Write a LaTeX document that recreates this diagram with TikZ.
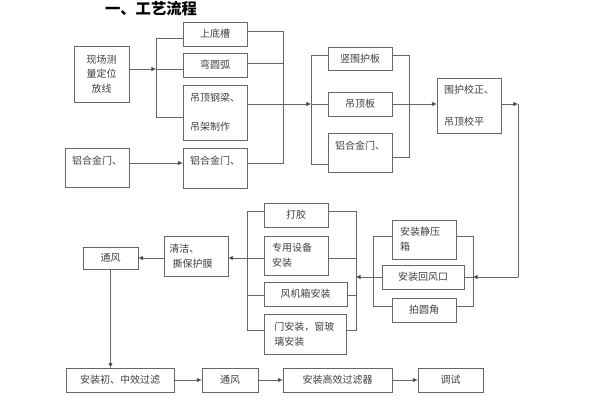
\documentclass[tikz,border=0pt]{standalone}
\usepackage{fontspec}
\setmainfont{Noto Sans CJK SC}
\usetikzlibrary{arrows.meta, positioning}

\tikzset{
    box/.style={draw=black!60, line width=0.6pt, inner sep=1.5pt, text=black!75,
        font=\fontsize{7.5}{11}\selectfont},
    bw/.style={minimum width=#1*0.75pt},
    bh/.style={minimum height=#1*0.75pt},
    line/.style={draw=black!60, line width=0.6pt},
    arr/.style={line, -{Triangle[length=3.5pt, width=3pt, fill=black]}},
}

\begin{document}
\begin{tikzpicture}[x=0.75pt, y=-0.75pt]
\useasboundingbox (0,0) rectangle (600,400);

% Title
\node[font=\fontsize{11.5}{13}\selectfont\bfseries] (title) at (151,9) {一、工艺流程};

% First column
\node[box, bw=55, bh=56, align=center] (xc) at (101.5,74) {现场测\\量定位\\放线};
\node[box, bw=64, bh=39, align=left] (lhj1) at (97,167.5) {铝合金门、\\ \mbox{}};

% Second column
\node[box, bw=64, bh=24] (sdc) at (215,34) {上底槽};
\node[box, bw=64, bh=24] (wyh) at (215,65) {弯圆弧};
\node[box, bw=64, bh=55, align=left] (dgl) at (215,112.5) {吊顶钢梁、\\[11pt]吊架制作};
\node[box, bw=64, bh=40, align=left] (lhj2) at (215,168) {铝合金门、\\ \mbox{}};

% Third column
\node[box, bw=64, bh=23] (sw) at (360,58.5) {竖围护板};
\node[box, bw=64, bh=24] (dgb) at (360,104) {吊顶板};
\node[box, bw=64, bh=39, align=left] (lhj3) at (360,152.5) {铝合金门、\\ \mbox{}};
\node[box, bw=64, bh=55, align=left] (wh) at (469,105.5) {围护校正、\\[13pt]吊顶校平};

% Right group
\node[box, bw=64, bh=39, align=left, text width=36pt] (jyx) at (424,239.5) {安装静压\\箱};
\node[box, bw=82, bh=24] (hfk) at (423,277) {安装回风口};
\node[box, bw=64, bh=24] (pyj) at (424,310) {拍圆角};

% Middle group
\node[box, bw=64, bh=24] (dj) at (296,215) {打胶};
\node[box, bw=64, bh=39, align=left, text width=36pt] (zy) at (296,255.5) {专用设备\\安装};
\node[box, bw=83, bh=24] (fj) at (305.5,294) {风机箱安装};
\node[box, bw=82, bh=40, align=left, text width=46pt] (mc) at (305,334) {门安装，窗玻\\璃安装};
\node[box, bw=64, bh=40, align=left, text width=40pt] (qj) at (196,256) {清洁、\\\ 撕保护膜};
\node[box, bw=55, bh=22] (tf1) at (110.5,258) {通风};

% Bottom row
\node[box, bw=108, bh=24] (cz) at (120,380) {安装初、中效过滤};
\node[box, bw=56, bh=24] (tf2) at (230,380) {通风};
\node[box, bw=109, bh=24] (gx) at (337.5,380) {安装高效过滤器};
\node[box, bw=65, bh=24] (ts) at (450.5,380) {调试};

% Branch points
\coordinate (a0) at (156,69);  \coordinate (a1) at (156,38);  \coordinate (a2) at (156,117);
\coordinate (b1) at (283,31);  \coordinate (b2) at (283,63);  \coordinate (b3) at (283,104); \coordinate (b4) at (283,163);
\coordinate (c1) at (311,55);  \coordinate (c2) at (311,104); \coordinate (c3) at (311,164);
\coordinate (d1) at (409,55);  \coordinate (d2) at (409,104); \coordinate (d3) at (409,157);
\coordinate (e1) at (518,104); \coordinate (e2) at (518,277);
\coordinate (f1) at (473,236); \coordinate (f2) at (473,277); \coordinate (f3) at (473,306);
\coordinate (g1) at (373,236); \coordinate (g2) at (373,277); \coordinate (g3) at (373,306);
\coordinate (h1) at (356,211); \coordinate (h2) at (356,277); \coordinate (h3) at (356,330);
\coordinate (hz) at (356,258); \coordinate (hf) at (356,295);
\coordinate (k1) at (247,211); \coordinate (k2) at (247,258); \coordinate (k3) at (247,330);
\coordinate (kf) at (247,295);

% Top part
\draw[arr] (xc.east |- a0) -- (a0);
\draw[line] (a0) -- (wyh.west |- a0);
\draw[line] (sdc.west |- a1) -- (a1) -- (a2) -- (dgl.west |- a2);
\draw[arr] (lhj1.east |- b4) -- (lhj2.west |- b4);
\draw[line] (sdc.east |- b1) -- (b1) -- (b4) -- (lhj2.east |- b4);
\draw[line] (wyh.east |- b2) -- (b2);
\draw[line] (dgl.east |- b3) -- (b3);
\draw[arr] (b3) -- (c2);
\draw[line] (sw.west |- c1) -- (c1) -- (c3) -- (lhj3.west |- c3);
\draw[line] (c2) -- (dgb.west |- c2);
\draw[line] (sw.east |- d1) -- (d1) -- (d3) -- (lhj3.east |- d3);
\draw[line] (dgb.east |- d2) -- (d2);
\draw[arr] (d2) -- (wh.west |- d2);
\draw[arr] (wh.east |- e1) -- (e1);
\draw[line] (e1) -- (e2);

% Right group
\draw[arr] (e2) -- (f2);
\draw[line] (jyx.east |- f1) -- (f1) -- (f3) -- (pyj.east |- f3);
\draw[line] (f2) -- (hfk.east |- f2);
\draw[line] (jyx.west |- g1) -- (g1) -- (g3) -- (pyj.west |- g3);
\draw[line] (hfk.west |- g2) -- (g2);
\draw[arr] (g2) -- (h2);

% Middle group
\draw[line] (dj.east |- h1) -- (h1) -- (h3) -- (mc.east |- h3);
\draw[line] (zy.east |- hz) -- (hz);
\draw[line] (fj.east |- hf) -- (hf);
\draw[line] (dj.west |- k1) -- (k1) -- (k3) -- (mc.west |- k3);
\draw[line] (zy.west |- k2) -- (k2);
\draw[line] (fj.west |- kf) -- (kf);
\draw[arr] (k2) -- (qj.east |- k2);
\draw[arr] (qj.west |- k2) -- (tf1.east |- k2);

% Bottom row
\draw[arr] (tf1.south) -- (tf1.south |- cz.north);
\draw[arr] (cz) -- (tf2);
\draw[arr] (tf2) -- (gx);
\draw[arr] (gx) -- (ts);

\end{tikzpicture}
\end{document}
